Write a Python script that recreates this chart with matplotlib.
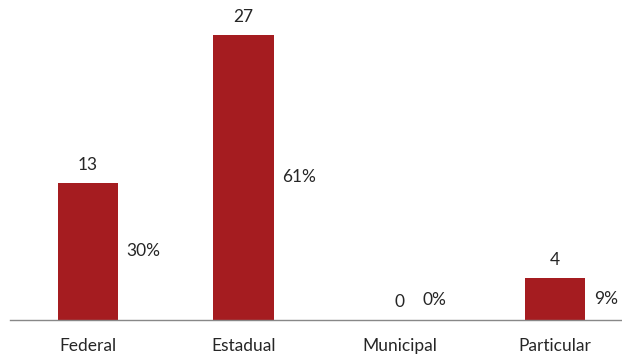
import matplotlib.pyplot as plt

# --- data ---
categories = ['Federal', 'Estadual', 'Municipal', 'Particular']
counts = [13, 27, 0, 4]
percents = ['30%', '61%', '0%', '9%']

bar_color = '#A51C20'
text_color = '#262626'

plt.rcParams['font.family'] = ['Lato', 'DejaVu Sans']

fig = plt.figure(figsize=(6.22, 3.56), dpi=100)
# axis runs from x=10px past the right edge of the image
ax = fig.add_axes([10 / 622, 36 / 356, 623 / 622, 285 / 356])

x = range(len(categories))
bar_w = 0.39
ax.bar(x, counts, width=bar_w, color=bar_color, zorder=2)

ax.set_xlim(-0.5, 3.5)
ax.set_ylim(0, 27)

# count labels above the bars
for i, c in enumerate(counts):
    ax.annotate(str(c), (i, c), xytext=(0, 13), textcoords='offset points',
                ha='center', va='center', fontsize=12.5, color=text_color)

# percentage labels to the right of the bars (zero bar: label sits closer)
for i, (c, p) in enumerate(zip(counts, percents)):
    y = max(c / 2, 1.9)
    dx = 6 if c > 0 else -5
    ax.annotate(p, (i + bar_w / 2, y), xytext=(dx, 0), textcoords='offset points',
                ha='left', va='center', fontsize=12.5, color=text_color)

ax.set_xticks(list(x))
ax.set_xticklabels(categories, fontsize=12.5, color=text_color)
ax.tick_params(axis='x', length=0, pad=13)
ax.set_yticks([])

for s in ['top', 'left', 'right']:
    ax.spines[s].set_visible(False)
ax.spines['bottom'].set_color('#888888')
ax.spines['bottom'].set_linewidth(1)

fig.savefig('out.png', dpi=100)
